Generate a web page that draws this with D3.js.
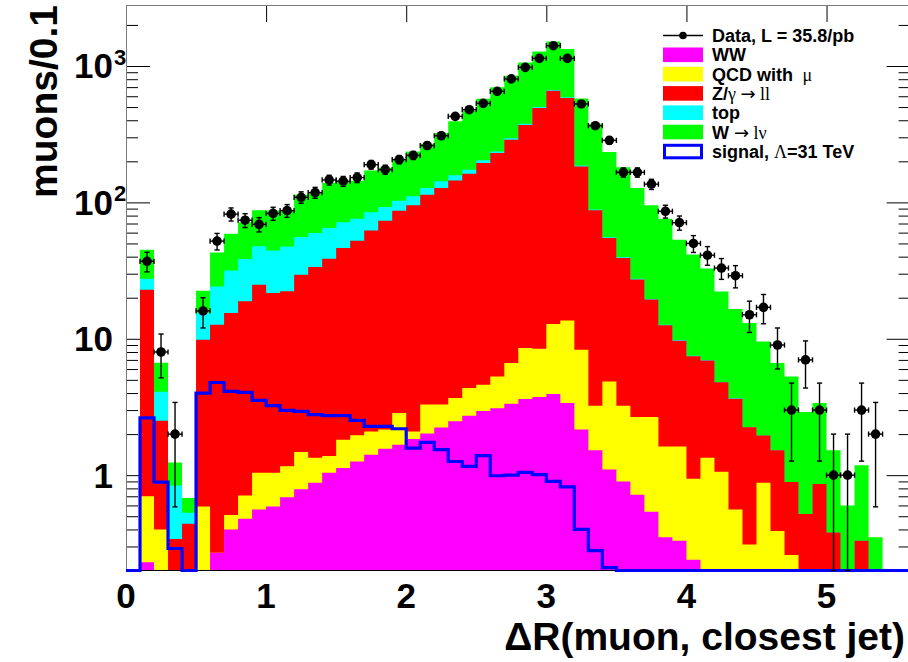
<!DOCTYPE html>
<html>
<head>
<meta charset="utf-8">
<script src="https://cdn.jsdelivr.net/npm/d3@7"></script>
<style>
  html, body { margin: 0; padding: 0; background: #fff; }
  svg { display: block; }
</style>
</head>
<body>
<svg id="chart" width="908" height="662"></svg>
<script>
// ΔR(muon, closest jet) in 56 bins of width 0.1 from 0 to 5.6
const binWidth = 0.1;
const binLow = d3.range(56).map(i => i * binWidth);

// Expected muons per bin for each background, bottom of the stack first
const ww = [0,0.23,0,0,0,0,0.27,0.40,0.48,0.56,0.59,0.69,0.79,0.88,1.04,1.13,1.26,1.41,1.56,1.67,
  1.84,2.02,2.24,2.48,2.73,2.95,3.10,3.34,3.62,3.74,3.94,3.38,2.16,1.52,1.10,0.90,0.72,0.54,0.35,0.33,
  0.24,0,0,0,0,0,0,0,0,0,0,0,0,0,0,0];
const qcdMu = [0,0.47,0.40,0,0,0.59,0,0.11,0.23,0.48,0.45,0.47,0.69,0.46,0.34,0.69,0.70,0.68,0.60,1.19,
  0.25,1.27,1.05,1.20,1.63,1.66,2.20,3.31,4.94,4.72,8.90,10.26,6.16,1.71,3.77,2.33,1.95,2.13,1.27,1.29,
  0.70,1.34,1.06,0.56,0.31,0.88,0.39,0.26,0,0,0,0,0,0,0,0];
const zll = [0,22.2,2.11,0.34,0.44,9.26,12.4,14.95,18.1,23.9,20.6,21.1,28.0,32.3,37.3,44.5,50.4,60.2,71.2,84.0,
  93.0,110.6,124.2,141.3,157.9,189.9,224.9,281.5,360.8,483.7,646,569,175.3,84.2,49.9,35.9,24.5,16.7,10.95,8.07,
  6.49,5.6,3.73,3.08,1.94,1.07,1.13,0.63,0.52,0.86,0.38,0,0.33,0,0,0];
const topQuark = [0,4.7,1.58,0.50,0.09,5.69,11.5,16.2,19.7,22.7,22.8,25.3,26.3,26.1,26.2,25.1,23.5,22.2,19.1,16.0,
  15.6,13.6,15.1,12.8,11.4,9.4,6.3,7.4,8.2,8.4,8.0,7.8,3.1,1.4,0.8,0.55,0.32,0.23,0.12,0.09,
  0.08,0.06,0.04,0.02,0,0,0,0,0,0,0,0,0,0,0,0];
const wlnu = [0,17.4,2.59,0.40,0.15,6.96,18.8,27.3,32.9,39.8,42.9,39.8,58.1,58.1,74.6,70.4,68.3,87.1,87.2,102.7,
  125.8,141.9,180.2,234.8,296.5,371.9,462.5,553,685,778,848,741,392,289,178.5,141,100,75.5,63.2,43.5,
  33.9,25.7,17.4,12.9,10.8,7.62,5.13,4.41,2.39,2.52,1.14,0.6,0.85,0.35,0,0];

// Signal expectation for Λ = 31 TeV (drawn unstacked)
const signal = [0,2.63,0.89,0.29,0,4.0,4.78,4.11,4.05,3.54,3.23,2.99,2.94,2.78,2.73,2.73,2.52,2.28,2.28,2.19,
  1.58,1.74,1.54,1.26,1.16,1.39,0.99,1.0,1.05,1.01,0.90,0.82,0.40,0.28,0.21,0,0,0,0,0,
  0,0,0,0,0,0,0,0,0,0,0,0,0,0,0,0];

// Observed muon counts
const dataCounts = [0,37,8,2,0,16,52,82,74,69,83,87,109,118,146,143,152,189,174,206,
  221,261,308,427,478,532,652,804,977,1137,1409,1137,527,365,285,166,166,136,86,71,
  50,41,33,29,15,17,9,3,7,3,1,1,3,2,0,0];

// Stack layers, bottom to top
const layers = [
  { name: "WW",    values: ww,       color: "#ff00ff" },
  { name: "QCD",   values: qcdMu,    color: "#ffff00" },
  { name: "Zll",   values: zll,      color: "#ff0000" },
  { name: "top",   values: topQuark, color: "#00ffff" },
  { name: "Wlnu",  values: wlnu,     color: "#00ff00" }
];

const xTicks = [0, 1, 2, 3, 4, 5];
const yMajor = [1, 10, 100, 1000];
const yLabels = [
  { v: 1, base: "1", sup: "" },
  { v: 10, base: "10", sup: "" },
  { v: 100, base: "10", sup: "2" },
  { v: 1000, base: "10", sup: "3" }
];

// Frame geometry
const frameLeft = 126, frameRight = 910.6, frameTop = 5, frameBottom = 570.5;
const x = d3.scaleLinear().domain([0, 5.6]).range([frameLeft, frameRight]);
const y = d3.scaleLog().domain([0.2, 2800]).range([frameBottom, frameTop]);
const yv = v => y(Math.min(Math.max(v, 0.2), 2800));

const svg = d3.select("#chart");
const sans = "'Liberation Sans', Arial, Helvetica, sans-serif";
const serif = "'Liberation Serif', 'DejaVu Serif', 'Times New Roman', serif";
const arrowFont = "'DejaVu Sans', sans-serif";

// Minor log ticks
const yMinor = [];
[0.1, 1, 10, 100, 1000].forEach(d => {
  for (let k = 2; k <= 9; k++) {
    const v = +(d * k).toPrecision(6);
    if (v >= 0.2 && v <= 2800) yMinor.push(v);
  }
});

function tickAxis(axis, transform) {
  const g = svg.append("g").attr("transform", transform).call(axis);
  g.select(".domain").remove();
  g.selectAll("line").attr("stroke", "#000").attr("stroke-width", 1);
  g.selectAll("text").remove();
  return g;
}

// Ticks on all four sides, pointing into the frame
tickAxis(d3.axisRight(y).tickValues(yMajor).tickSize(24), `translate(${frameLeft},0)`);
tickAxis(d3.axisRight(y).tickValues(yMinor).tickSize(12), `translate(${frameLeft},0)`);
tickAxis(d3.axisLeft(y).tickValues(yMajor).tickSize(24), `translate(${frameRight},0)`);
tickAxis(d3.axisLeft(y).tickValues(yMinor).tickSize(12), `translate(${frameRight},0)`);
tickAxis(d3.axisBottom(x).tickValues(xTicks).tickSize(17), `translate(0,${frameTop})`);
tickAxis(d3.axisTop(x).tickValues(xTicks).tickSize(17), `translate(0,${frameBottom})`);

// Stacked backgrounds: draw cumulative totals from the top layer down
const cumulative = [];
let running = binLow.map(() => 0);
layers.forEach(l => {
  running = running.map((r, i) => r + l.values[i]);
  cumulative.push({ color: l.color, totals: running.slice() });
});

function stepPoints(vals) {
  const pts = vals.map((v, i) => [binLow[i], v]);
  pts.push([binLow[binLow.length - 1] + binWidth, vals[vals.length - 1]]);
  return pts;
}

const area = d3.area()
  .curve(d3.curveStepAfter)
  .x(d => x(d[0]))
  .y0(frameBottom)
  .y1(d => d[1] > 0 ? yv(d[1]) : frameBottom);

const gStack = svg.append("g");
cumulative.slice().reverse().forEach(c => {
  gStack.append("path")
    .attr("d", area(stepPoints(c.totals)))
    .attr("fill", c.color)
    .attr("stroke", "none");
});

// Frame lines
svg.append("line").attr("x1", frameLeft).attr("x2", frameRight)
  .attr("y1", frameBottom).attr("y2", frameBottom)
  .attr("stroke", "#000").attr("stroke-width", 1.2);
svg.append("line").attr("x1", frameLeft + 0.5).attr("x2", frameLeft + 0.5)
  .attr("y1", frameTop).attr("y2", frameBottom)
  .attr("stroke", "#7a7a7a").attr("stroke-width", 1);
svg.append("line").attr("x1", frameLeft).attr("x2", frameRight)
  .attr("y1", frameTop + 0.5).attr("y2", frameTop + 0.5)
  .attr("stroke", "#7a7a7a").attr("stroke-width", 1);

// Signal outline
const line = d3.line()
  .curve(d3.curveStepAfter)
  .x(d => x(d[0]))
  .y(d => d[1] > 0 ? yv(d[1]) : frameBottom);
svg.append("path")
  .attr("d", line(stepPoints(signal)))
  .attr("fill", "none")
  .attr("stroke", "#0000ff")
  .attr("stroke-width", 3.2)
  .attr("stroke-linejoin", "miter");

// Data points with Poisson (sqrt N) error bars
const gData = svg.append("g").attr("stroke", "#000").attr("stroke-width", 1.4);
const cap = 2.6;
dataCounts.forEach((n, i) => {
  if (n <= 0) return;
  const cx = x(binLow[i] + binWidth / 2);
  const cy = y(n);
  const e = Math.sqrt(n);
  const yHi = yv(n + e);
  const yLo = n - e > 0.2 ? y(n - e) : frameBottom;
  const xl = x(binLow[i]), xr = x(binLow[i] + binWidth);
  gData.append("line").attr("x1", cx).attr("x2", cx).attr("y1", yHi).attr("y2", yLo);
  gData.append("line").attr("x1", cx - cap).attr("x2", cx + cap).attr("y1", yHi).attr("y2", yHi);
  gData.append("line").attr("x1", cx - cap).attr("x2", cx + cap).attr("y1", yLo).attr("y2", yLo);
  gData.append("line").attr("x1", xl).attr("x2", xr).attr("y1", cy).attr("y2", cy);
  gData.append("line").attr("x1", xl).attr("x2", xl).attr("y1", cy - cap).attr("y2", cy + cap);
  gData.append("line").attr("x1", xr).attr("x2", xr).attr("y1", cy - cap).attr("y2", cy + cap);
  gData.append("circle").attr("cx", cx).attr("cy", cy).attr("r", 4.8)
    .attr("fill", "#000").attr("stroke", "none");
});

// Axis labels
const gLab = svg.append("g").attr("font-family", sans).attr("font-weight", "bold").attr("fill", "#000");
xTicks.forEach(t => {
  gLab.append("text").attr("x", x(t)).attr("y", 608)
    .attr("text-anchor", "middle").attr("font-size", 35).text(t);
});
yLabels.forEach(l => {
  const ty = y(l.v);
  gLab.append("text").attr("x", 113).attr("y", ty + 12.5)
    .attr("text-anchor", "end").attr("font-size", 35).text(l.base);
  if (l.sup) {
    gLab.append("text").attr("x", 114).attr("y", ty - 1)
      .attr("text-anchor", "start").attr("font-size", 22).text(l.sup);
  }
});

// Axis titles
gLab.append("text")
  .attr("x", 905).attr("y", 650)
  .attr("text-anchor", "end").attr("font-size", 39)
  .text("ΔR(muon, closest jet)");
gLab.append("text")
  .attr("transform", "translate(57,5) rotate(-90)")
  .attr("text-anchor", "end").attr("font-size", 39)
  .text("muons/0.1");

// Legend
const legendRows = [
  { kind: "data", parts: [["Data, L = 35.8/pb", sans]] },
  { kind: "fill", color: "#ff00ff", parts: [["WW", sans]] },
  { kind: "fill", color: "#ffff00", parts: [["QCD with ", sans], ["\u00a0μ", serif]] },
  { kind: "fill", color: "#ff0000", parts: [["Z/", sans], ["γ ", serif], ["→", arrowFont], [" ll", serif]] },
  { kind: "fill", color: "#00ffff", parts: [["top", sans]] },
  { kind: "fill", color: "#00ff00", parts: [["W ", sans], ["→", arrowFont], [" lν", serif]] },
  { kind: "line", color: "#0000ff", parts: [["signal, ", sans], ["Λ", serif], ["=31 TeV", sans]] }
];
const gLeg = svg.append("g");
const legX0 = 663, legX1 = 703, legY0 = 35.5, legDy = 19.3;
legendRows.forEach((r, i) => {
  const cy = legY0 + i * legDy;
  if (r.kind === "data") {
    gLeg.append("line").attr("x1", legX0).attr("x2", legX1).attr("y1", cy).attr("y2", cy)
      .attr("stroke", "#000").attr("stroke-width", 1.4);
    gLeg.append("circle").attr("cx", (legX0 + legX1) / 2).attr("cy", cy).attr("r", 3.8).attr("fill", "#000");
  } else if (r.kind === "fill") {
    gLeg.append("rect").attr("x", legX0).attr("y", cy - 7.3).attr("width", legX1 - legX0).attr("height", 14.6)
      .attr("fill", r.color);
  } else {
    gLeg.append("rect").attr("x", legX0 + 1.5).attr("y", cy - 6).attr("width", legX1 - legX0 - 3).attr("height", 12.5)
      .attr("fill", "none").attr("stroke", r.color).attr("stroke-width", 3);
  }
  const t = gLeg.append("text").attr("x", 712).attr("y", cy + 6.5).attr("fill", "#000");
  r.parts.forEach(p => {
    const isSans = p[1] === sans;
    t.append("tspan").attr("font-family", p[1])
      .attr("font-weight", isSans ? "bold" : "normal")
      .attr("font-size", 18)
      .attr("xml:space", "preserve")
      .text(p[0]);
  });
});
</script>
</body>
</html>
